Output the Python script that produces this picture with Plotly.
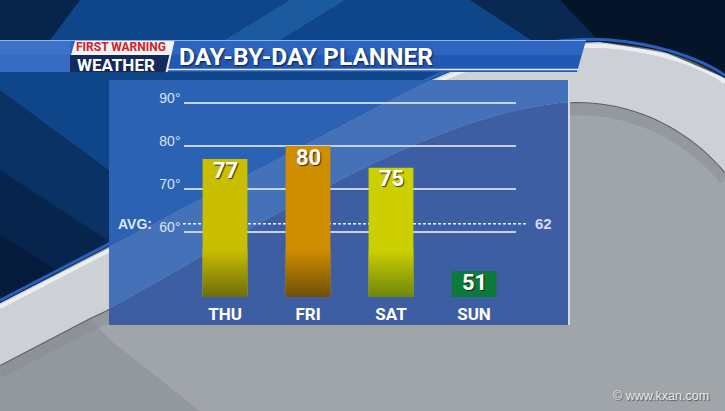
import plotly.graph_objects as go

# ---------------- data ----------------
days = ["THU", "FRI", "SAT", "SUN"]
highs = [77, 80, 75, 51]
bar_top_colors = ["#c9bf00", "#cf8d00", "#cdd000", "#0b7a3b"]
bar_bottom_colors = ["#6e6c0a", "#6e5005", "#6f860c", "#0b7a3b"]
avg_high = 62
y_tick_values = [45, 60, 70, 80, 90]
y_tick_labels = ["", "60°", "70°", "80°", "90°"]
title_text = "DAY-BY-DAY PLANNER"
logo_top = "FIRST WARNING"
logo_bottom = "WEATHER"
watermark = "© www.kxan.com"

# ---------------- layout constants ----------------
W, H = 725, 411
Y_MIN, Y_MAX = 45, 93
BAR_W = 0.54
GRAD_TOP = 56
BOLDF = "Roboto, Liberation Sans, Arial"
SANS = "Liberation Sans, Arial, DejaVu Sans"


def px(x):
    return x / W


def py(y):
    return 1 - y / H


def bez(p0, p1, p2, p3, n=24):
    pts = []
    for k in range(1, n + 1):
        t = k / n
        mt = 1 - t
        x = mt**3 * p0[0] + 3 * mt * mt * t * p1[0] + 3 * mt * t * t * p2[0] + t**3 * p3[0]
        y = mt**3 * p0[1] + 3 * mt * mt * t * p1[1] + 3 * mt * t * t * p2[1] + t**3 * p3[1]
        pts.append((x, y))
    return pts


def to_path(pts, closed=True):
    s = "M " + " L ".join(f"{px(x):.5f},{py(y):.5f}" for x, y in pts)
    return s + (" Z" if closed else "")


def clip_rect(poly, x0, y0, x1, y1):
    def clip(pts, inside, inter):
        out = []
        if not pts:
            return out
        prev = pts[-1]
        for cur in pts:
            if inside(cur):
                if not inside(prev):
                    out.append(inter(prev, cur))
                out.append(cur)
            elif inside(prev):
                out.append(inter(prev, cur))
            prev = cur
        return out

    def ix(xc):
        def f(a, b):
            t = (xc - a[0]) / (b[0] - a[0])
            return (xc, a[1] + t * (b[1] - a[1]))
        return f

    def iy(yc):
        def f(a, b):
            t = (yc - a[1]) / (b[1] - a[1])
            return (a[0] + t * (b[0] - a[0]), yc)
        return f

    p = clip(poly, lambda q: q[0] >= x0, ix(x0))
    p = clip(p, lambda q: q[0] <= x1, ix(x1))
    p = clip(p, lambda q: q[1] >= y0, iy(y0))
    p = clip(p, lambda q: q[1] <= y1, iy(y1))
    return p


shapes = []


def poly(pts, fill, opacity=1.0):
    if len(pts) < 3:
        return
    shapes.append(dict(type="path", path=to_path(pts), xref="paper", yref="paper",
                       fillcolor=fill, opacity=opacity, line=dict(width=0), layer="below"))


def polyline(pts, color, width, opacity=1.0):
    shapes.append(dict(type="path", path=to_path(pts, closed=False), xref="paper", yref="paper",
                       fillcolor="rgba(0,0,0,0)", opacity=opacity,
                       line=dict(color=color, width=width), layer="below"))


# background curves
O = [(0, 303), (400, 95)] + bez((400, 95), (460, 64), (530, 40), (600, 42)) + bez((600, 42), (650, 44), (700, 60), (725, 78))
I = [(0, 365), (90, 318), (105, 311)] + bez((105, 311), (250, 232), (420, 118), (560, 103)) + bez((560, 103), (630, 96), (690, 130), (725, 172))

blue_region = O + [(725, 0), (0, 0)]
band_region = O + I[::-1]
grey_region = I + [(725, 411), (0, 411)]

# grey area details
poly(grey_region, "#a0a5aa")
poly([(0, 365), (0, 411), (200, 411), (110, 340), (90, 318)], "#767c81", 0.3)
polyline([(x, y + 7) for x, y in I], "#858b91", 12, 0.45)
polyline(I, "#5a6066", 2)

# silver band
poly(band_region, "#cdd1d6")
polyline([(x, y + 4) for x, y in O], "#eef1f4", 4, 0.9)

# blue region with shading
poly(blue_region, "#0f4689")
poly([(0, 90), (0, 303), (170, 215)], "#000814", 0.3)
poly([(0, 170), (0, 303), (115, 245)], "#000814", 0.3)
poly([(0, 235), (0, 303), (60, 272)], "#000814", 0.3)
poly([(0, 0), (80, 0), (50, 40), (0, 40)], "#020a18", 0.55)
poly([(470, 0), (725, 0), (725, 78), (680, 55), (600, 42), (540, 46)], "#02060f", 0.45)
poly([(560, 0), (725, 0), (725, 78), (660, 50), (600, 42)], "#02060f", 0.6)
poly([(225, 40), (290, 0), (345, 0), (280, 40)], "#3a8ad6", 0.3)
polyline([(x, y - 2.5) for x, y in O], "#2a5fbd", 3)

# chart panel (opaque, coloured per underlying region)
PX0, PY0, PX1, PY1 = 109, 80, 568, 325
poly(clip_rect(grey_region, PX0, PY0, PX1, PY1), "#3e5ea3")
poly(clip_rect(band_region, PX0, PY0, PX1, PY1), "#4571b9")
poly(clip_rect(blue_region, PX0, PY0, PX1, PY1), "#2b62b3")
polyline([(PX1 + 1, PY0), (PX1 + 1, PY1)], "#d4dae2", 2)

# header bar
poly([(0, 40), (586, 40), (577, 72), (0, 72)], "#2258b5")
poly([(0, 40), (586, 40), (582, 55), (0, 55)], "#4a86d6", 0.3)
poly([(0, 40), (70, 40), (70, 72), (0, 72)], "#5a8ed4", 0.35)
polyline([(0, 40.5), (586, 40.5)], "#8ab6ee", 1)
polyline([(168, 69.5), (578, 69.5)], "#e2eaf6", 1.5)
# logo
poly([(75, 41), (174, 41), (170, 55), (71, 55)], "#f3f3f3")
poly([(70, 55), (170, 55), (166, 72), (70, 72)], "#15295c")
polyline([(173.5, 41), (166.5, 72)], "#f3f3f3", 2)

# average line (in data units on y)
shapes.append(dict(type="line", xref="paper", yref="y", x0=px(183), x1=px(528), y0=avg_high, y1=avg_high,
                   line=dict(color="#eef3fa", width=1.5, dash="3px,2px"), layer="below"))

# ---------------- figure ----------------
x_pos = list(range(len(days)))
fig = go.Figure()
fig.add_trace(go.Bar(
    x=x_pos, y=[v - Y_MIN for v in highs], base=Y_MIN, width=BAR_W,
    marker=dict(color=bar_top_colors, line=dict(width=0)),
    hoverinfo="skip", showlegend=False,
))
for i, v in enumerate(highs):
    if v > GRAD_TOP + 1:
        xl, xr = x_pos[i] - BAR_W / 2, x_pos[i] + BAR_W / 2
        fig.add_trace(go.Scatter(
            x=[xl, xr, xr, xl, xl], y=[Y_MIN, Y_MIN, GRAD_TOP, GRAD_TOP, Y_MIN],
            mode="lines", line=dict(width=0, color=bar_top_colors[i]), fill="toself",
            fillgradient=dict(type="vertical",
                              colorscale=[[0, bar_bottom_colors[i]], [1, bar_top_colors[i]]]),
            hoverinfo="skip", showlegend=False,
        ))

annotations = []
for i, v in enumerate(highs):
    annotations.append(dict(
        text=str(v), x=x_pos[i], y=v, xref="x", yref="y", showarrow=False,
        xanchor="center", yanchor="middle", yshift=-11,
        font=dict(family=BOLDF, size=22, color="white", weight="bold",
                  shadow="1px 1px 1px rgba(40,25,0,0.9)"),
    ))

annotations += [
    dict(text="AVG:", x=px(135), y=avg_high, xref="paper", yref="y", showarrow=False,
         font=dict(family=SANS, size=14, color="#dfe8f5", weight="bold"), xanchor="center", yanchor="middle"),
    dict(text=str(avg_high), x=px(533), y=avg_high, xref="paper", yref="y", showarrow=False,
         font=dict(family=SANS, size=15, color="#d3def0", weight="bold"), xanchor="left", yanchor="middle"),
    dict(text=title_text, x=px(177), y=py(56), xref="paper", yref="paper", showarrow=False,
         font=dict(family=BOLDF, size=24.5, color="white", weight="bold", shadow="1px 1px 2px rgba(0,0,30,0.7)"),
         xanchor="left", yanchor="middle"),
    dict(text=logo_top, x=px(121), y=py(47), xref="paper", yref="paper", showarrow=False, borderpad=0,
         font=dict(family=BOLDF, size=12, color="#d3202b", weight="bold"), xanchor="center", yanchor="middle"),
    dict(text=logo_bottom, x=px(116), y=py(65.5), xref="paper", yref="paper", showarrow=False, borderpad=0,
         font=dict(family=BOLDF, size=17, color="white", weight="bold"), xanchor="center", yanchor="middle"),
    dict(text=watermark, x=px(711), y=py(396), xref="paper", yref="paper", showarrow=False,
         font=dict(family=SANS, size=12.5, color="#e8ebee", shadow="1px 1px 1px rgba(0,0,0,0.5)"),
         xanchor="right", yanchor="middle"),
]

px_per_deg = (297 - 103) / (90 - Y_MIN)
y_top_px = 297 - (Y_MAX - Y_MIN) * px_per_deg

fig.update_layout(
    width=W, height=H, margin=dict(l=0, r=0, t=0, b=0),
    paper_bgcolor="#a0a5aa", plot_bgcolor="rgba(0,0,0,0)",
    shapes=shapes, annotations=annotations, showlegend=False,
    xaxis=dict(domain=[px(183.5), px(515.5)], range=[-0.5, len(days) - 0.5],
               tickvals=x_pos, ticktext=days, showgrid=False, zeroline=False, showline=False,
               ticks="", ticklabelstandoff=5,
               tickfont=dict(family=BOLDF, size=17, color="white", weight="bold"), fixedrange=True),
    yaxis=dict(domain=[py(297), py(y_top_px)], range=[Y_MIN, Y_MAX],
               tickvals=y_tick_values, ticktext=y_tick_labels, showgrid=True,
               gridcolor="#c3d3ee", gridwidth=1.5, zeroline=False, showline=False, ticks="",
               ticklabelstandoff=2, ticklabelshift=-5,
               tickfont=dict(family=SANS, size=14, color="#d9e4f5"), fixedrange=True),
    bargap=0.46,
)

fig.write_html("out.html", config={"displayModeBar": False},
               post_script="document.body.style.margin='0';document.body.style.overflow='hidden';")
